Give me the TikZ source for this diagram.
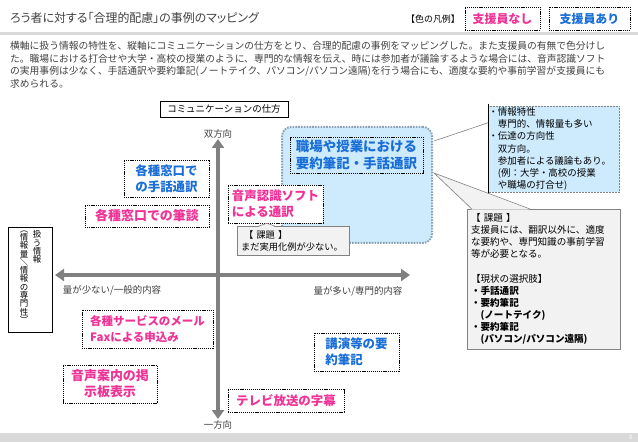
\documentclass[tikz,border=0pt]{standalone}
\usepackage{fontspec}
\setmainfont{Noto Sans CJK JP}
\newfontfamily\jpprop{Noto Sans CJK JP}[RawFeature=+palt]
\usetikzlibrary{arrows.meta,positioning,calc}
\definecolor{txtgray}{RGB}{64,64,64}
\definecolor{pinktxt}{RGB}{240,50,150}
\definecolor{bluetxt}{RGB}{25,110,215}
\definecolor{skyfill}{RGB}{205,235,252}
\definecolor{skyline}{RGB}{140,160,180}
\definecolor{callfill}{RGB}{242,242,242}
\definecolor{callline}{RGB}{130,130,130}
\definecolor{axisgray}{RGB}{128,128,128}
\definecolor{rulegray}{RGB}{217,217,217}
\newcommand{\fs}[2]{\fontsize{#1}{#2}\selectfont}

\begin{document}
\begin{tikzpicture}[x=1bp, y=-1bp,
  case/.style={draw=black, line width=0.6bp, dash pattern=on 1.2bp off 0.9bp,
               fill=white, inner sep=3bp, align=left,
               font=\fs{12.5}{16}\bfseries},
  nosup/.style={case, text=pinktxt},
  withsup/.style={case, text=bluetxt},
  note/.style={draw=callline, fill=callfill, line width=0.6bp, align=left,
               inner sep=4bp, text=black},
  axis/.style={draw=axisgray, line width=4.5bp,
               {Triangle[width=12bp,length=9bp]}-{Triangle[width=12bp,length=9bp]}},
  lbl/.style={font=\fs{9.5}{11}, text=txtgray, inner sep=1bp}]

\useasboundingbox (0,0) rectangle (638,442);

% header: title, legend and the rule under them
\node[anchor=west, inner sep=0, font=\jpprop\fs{12}{14}, text=txtgray] (title) at (10,18)
  {ろう者に対する「合理的配慮」の事例のマッピング};
\node[lbl, text=black, font=\fs{9}{11}] (legend) at (433,19) {【色の凡例】};
\node[nosup, align=center, font=\fs{12}{14}\bfseries, minimum width=75bp, minimum height=23bp] (legnosup) at (502.5,18.5) {支援員なし};
\node[withsup, align=center, font=\fs{12}{14}\bfseries, minimum width=81bp, minimum height=23bp] (legwithsup) at (589.5,18.5) {支援員あり};
\draw[rulegray, line width=3bp] (0,34) -- (638,34);

\node[anchor=north west, align=left, inner sep=0, font=\fs{9.8}{12.8}, text=txtgray] (intro) at (10,41)
  {横軸に扱う情報の特性を、縦軸にコミュニケーションの仕方をとり、合理的配慮の事例をマッピングした。また支援員の有無で色分けし\\
   た。職場における打合せや大学・高校の授業のように、専門的な情報を伝え、時には参加者が議論するような場合には、音声認識ソフト\\
   の実用事例は少なく、手話通訳や要約筆記(ノートテイク、パソコン/パソコン遠隔)を行う場合にも、適度な要約や事前学習が支援員にも\\
   求められる。};

% the two axes of the map
\coordinate (vtop)   at (218,139);
\coordinate (vbot)   at (218,419);
\coordinate (hleft)  at (55,275);
\coordinate (hright) at (410,275);
\draw[axis] (vbot) -- (vtop);
\draw[axis] (hleft) -- (hright);

\node[draw, line width=0.8bp, minimum width=128bp, minimum height=16bp, inner sep=0,
      font=\fs{9.5}{11}] (commbox) at (224,109) {コミュニケーションの仕方};
\node[lbl, above=0bp of vtop] (twoway) {双方向};
\node[lbl, below=0bp of vbot] (oneway) {一方向};
\node[lbl] (fewlbl)  at (112,290) {量が少ない/一般的内容};
\node[lbl] (manylbl) at (358,291) {量が多い/専門的内容};

% vertical caption of the horizontal axis, one glyph per line
\node[draw, line width=0.8bp, minimum width=44bp, minimum height=105bp, inner sep=0] (infoaxis) at (30,279.5) {};
\node[anchor=north, align=center, inner sep=0, font=\fs{8.5}{8.3}] (infoaxisA)
  at ($(infoaxis.north)+(7,4)$) {扱\\う\\情\\報};
\node[anchor=north, align=center, inner sep=0, font=\fs{8.5}{8.3}] (infoaxisB)
  at ($(infoaxis.north)+(-6,4)$) {︵\\情\\報\\量\\＼\\情\\報\\の\\専\\門\\性\\︶};

% the cluster of lectures and meetings, with its two notes
\node[draw=skyline, fill=skyfill, line width=2bp, dash pattern=on 1.6bp off 1.2bp,
      rounded corners=9bp, minimum width=150bp, minimum height=116bp] (bigrect) at (357,185) {};
\node[withsup, fill=skyfill, font=\fs{13.5}{17}\bfseries, minimum width=133bp, minimum height=36bp] (workbox) at (356.5,155)
  {職場や授業における\\要約筆記・手話通訳};
\node[nosup, minimum width=95bp, minimum height=38bp] (speechsw) at (275.5,204) {音声認識ソフト\\による通訳};
\node[note, font=\fs{9.3}{12}, text width=104bp, minimum height=26bp] (issue1) at (293,241)
  {\ 【 課題 】\\まだ実用化例が少ない。};
\fill[callfill] ($(issue1.north west)+(21,0.8)$) -- ($(speechsw.south)+(-8.5,0)$) -- ($(issue1.north west)+(39,0.8)$) -- cycle;
\draw[callline, line width=0.6bp] ($(issue1.north west)+(21,0)$) -- ($(speechsw.south)+(-8.5,0)$) -- ($(issue1.north west)+(39,0)$);

\node[draw=callline, fill=skyfill, line width=0.6bp, dash pattern=on 2bp off 1bp, align=left,
      inner sep=0, text width=131bp, minimum height=86bp, font=\fs{9.5}{12.3}] (infobox) at (554,149)
  {・情報特性\\　専門的、情報量も多い\\・伝達の方向性\\　双方向。\\　参加者による議論もあり。\\　(例：大学・高校の授業\\　や職場の打合せ)};
\draw[line width=1.2bp] ($(infobox.north west)+(0,-2)$) -- ($(infobox.south west)+(0,2)$);
\draw[callline, line width=0.6bp] ($(bigrect.north east)+(1,15)$) -- ($(infobox.north west)+(0,17)$);

\node[note, font=\fs{9.6}{12.2}, text width=145bp, minimum height=138bp] (issue2) at (543.5,279)
  {【 課題 】\\支援員には、翻訳以外に、適度\\な要約や、専門知識の事前学習\\等が必要となる。\\[12.2bp]
   【現状の選択肢】\\{\bfseries ・手話通訳}\\{\bfseries ・要約筆記}\\{\bfseries 　(ノートテイク)}\\
   {\bfseries ・要約筆記}\\{\bfseries 　(パソコン/パソコン遠隔)}};
\fill[callfill] ($(bigrect.east)+(1,-12)$) -- ($(issue2.north west)+(5,0.8)$) -- ($(issue2.north west)+(63,0.8)$) -- cycle;
\draw[callline, line width=0.6bp] ($(issue2.north west)+(5,0)$) -- ($(bigrect.east)+(1,-12)$) -- ($(issue2.north west)+(63,0)$);

% the single cases
\node[withsup, align=center, minimum width=85bp, minimum height=37bp] (winsign) at (166.5,178.5) {各種窓口で\\の手話通訳};
\node[nosup, font=\fs{13}{16}\bfseries, minimum width=124bp, minimum height=22bp] (winwrite) at (147,216) {各種窓口での筆談};
\node[nosup, font=\fs{11.5}{16}\bfseries, minimum width=131bp, minimum height=38bp] (mailfax) at (147.5,329) {各種サービスのメール\\Faxによる申込み};
\node[nosup, align=center, font=\fs{13}{16}\bfseries, minimum width=94bp, minimum height=38bp] (announce) at (110,384) {音声案内の掲\\示板表示};
\node[nosup, minimum width=116bp, minimum height=23bp] (tvcap) at (286,400.5) {テレビ放送の字幕};
\node[withsup, minimum width=85bp, minimum height=38bp] (lecture) at (356.5,352) {講演等の要\\約筆記};

% footer band with the page number
\fill[rulegray] (0,433) rectangle (638,442);
\node[font=\fs{6}{7}, text=white, inner sep=0] (pageno) at (631,437.5) {6};
\end{tikzpicture}
\end{document}
